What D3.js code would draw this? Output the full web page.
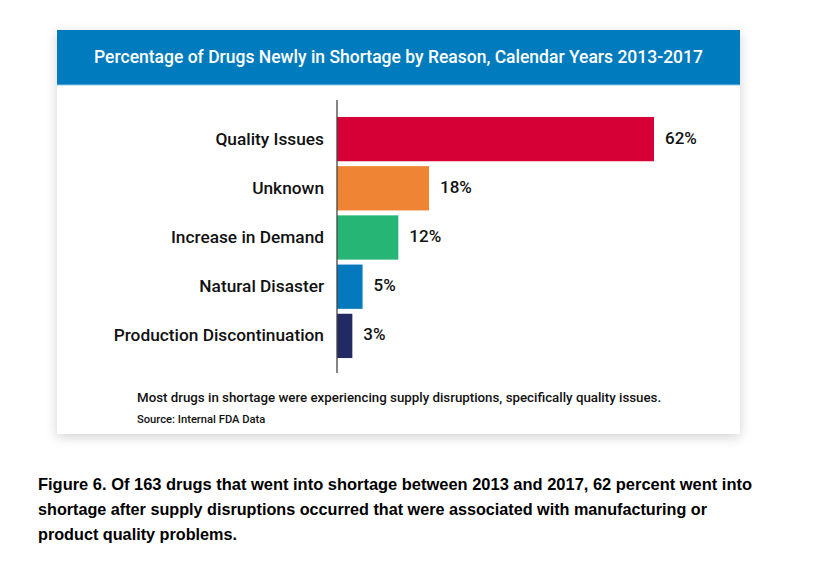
<!DOCTYPE html>
<html>
<head>
<meta charset="utf-8">
<script src="https://cdn.jsdelivr.net/npm/d3@7"></script>
<style>
  body { margin: 0; background: #fff; }
  text { font-family: "Roboto", "Liberation Sans", sans-serif; }
</style>
</head>
<body>
<div id="chart"></div>
<script>
// data
var reasons = ["Quality Issues", "Unknown", "Increase in Demand", "Natural Disaster", "Production Discontinuation"];
var percents = [62, 18, 12, 5, 3];
var barColors = ["#d70036", "#ef8434", "#26b574", "#0479bd", "#222a63"];

var title = "Percentage of Drugs Newly in Shortage by Reason, Calendar Years 2013-2017";
var note = "Most drugs in shortage were experiencing supply disruptions, specifically quality issues.";
var source = "Source: Internal FDA Data";
var caption = [
  "Figure 6. Of 163 drugs that went into shortage between 2013 and 2017, 62 percent went into",
  "shortage after supply disruptions occurred that were associated with manufacturing or",
  "product quality problems."
];

var svgWidth = 817;
var svgHeight = 585;

var card = { x: 57, y: 30, w: 683, h: 404, header: 55 };

var svg = d3.select("#chart")
  .append("svg")
  .attr("width", svgWidth)
  .attr("height", svgHeight);

// soft shadow round the card
var defs = svg.append("defs");
var shadow = defs.append("filter")
  .attr("id", "shadow")
  .attr("x", "-10%").attr("y", "-10%")
  .attr("width", "120%").attr("height", "125%");
shadow.append("feDropShadow")
  .attr("dx", 0).attr("dy", 3)
  .attr("stdDeviation", 6)
  .attr("flood-color", "#000")
  .attr("flood-opacity", 0.18);

svg.append("rect")
  .attr("x", card.x).attr("y", card.y)
  .attr("width", card.w).attr("height", card.h)
  .attr("fill", "#fff")
  .attr("filter", "url(#shadow)");

svg.append("rect")
  .attr("x", card.x).attr("y", card.y)
  .attr("width", card.w).attr("height", card.header)
  .attr("fill", "#007cbe");

svg.append("line")
  .attr("x1", card.x).attr("x2", card.x + card.w)
  .attr("y1", card.y + card.header).attr("y2", card.y + card.header)
  .attr("stroke", "#8fc6ea")
  .attr("stroke-width", 1);

svg.append("text")
  .attr("x", card.x + card.w / 2)
  .attr("y", card.y + card.header / 2 + 1)
  .attr("text-anchor", "middle")
  .attr("dominant-baseline", "middle")
  .attr("fill", "#fff")
  .style("font-size", "17.5px")
  .style("font-weight", 500)
  .text(title);

// scales
var xScale = d3.scaleLinear()
  .domain([0, 62])
  .range([337, 654]);

var yScale = d3.scaleBand()
  .domain(reasons)
  .range([114.5, 360.5])
  .paddingInner(0.1)
  .paddingOuter(0.05);

var data = reasons.map(function(r, i) {
  return { reason: r, pct: percents[i], color: barColors[i] };
});

// bars
svg.selectAll(".bar")
  .data(data)
  .enter()
  .append("rect")
  .attr("class", "bar")
  .attr("x", xScale(0))
  .attr("y", d => yScale(d.reason))
  .attr("width", d => xScale(d.pct) - xScale(0))
  .attr("height", yScale.bandwidth())
  .attr("fill", d => d.color);

// category labels via a left axis, no ticks
var leftAxis = d3.axisLeft(yScale).tickSize(0).tickPadding(13);
var yAxis = svg.append("g")
  .attr("transform", `translate(${xScale(0)}, 0)`)
  .call(leftAxis);
yAxis.select(".domain").remove();
yAxis.selectAll("text")
  .attr("fill", "#111")
  .style("font-family", "Roboto, 'Liberation Sans', sans-serif")
  .style("font-weight", 500)
  .style("font-size", "17.3px");

// the vertical axis line runs past the bars
svg.append("line")
  .attr("x1", xScale(0)).attr("x2", xScale(0))
  .attr("y1", 100).attr("y2", 373)
  .attr("stroke", "#444")
  .attr("stroke-width", 1.3);

// value labels
svg.selectAll(".val")
  .data(data)
  .enter()
  .append("text")
  .attr("class", "val")
  .attr("x", d => xScale(d.pct) + 11)
  .attr("y", d => yScale(d.reason) + yScale.bandwidth() / 2)
  .attr("dominant-baseline", "middle")
  .attr("fill", "#111")
  .style("font-size", "17px")
  .style("font-weight", 500)
  .text(d => d.pct + "%");

// notes under the chart
svg.append("text")
  .attr("x", 137).attr("y", 402)
  .attr("fill", "#111")
  .style("font-size", "13.3px")
  .style("font-weight", 500)
  .text(note);

svg.append("text")
  .attr("x", 137).attr("y", 423)
  .attr("fill", "#111")
  .style("font-size", "11.2px")
  .style("font-weight", 500)
  .text(source);

// figure caption, squeezed to the narrower Calibri-like widths
var capWidths = [714, 669, 199];
svg.selectAll(".caption")
  .data(caption)
  .enter()
  .append("text")
  .attr("class", "caption")
  .attr("x", 38)
  .attr("y", (d, i) => 490 + i * 25)
  .attr("fill", "#000")
  .attr("textLength", (d, i) => capWidths[i])
  .attr("lengthAdjust", "spacingAndGlyphs")
  .style("font-family", "'Liberation Sans', sans-serif")
  .style("font-weight", "bold")
  .style("font-size", "17px")
  .text(d => d);
</script>
</body>
</html>
